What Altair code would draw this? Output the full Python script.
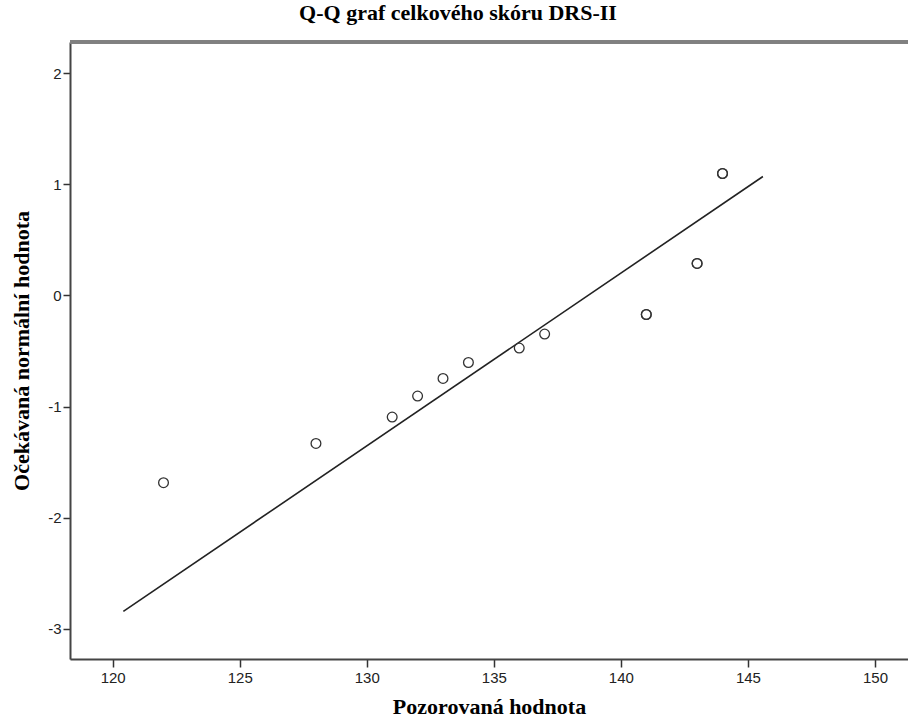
import altair as alt
import pandas as pd

# Observed values (ties repeated, as drawn twice in the reference)
observed = [122, 128, 131, 132, 133, 134, 136, 137, 141, 141, 143, 143, 144, 144]
expected = [-1.684, -1.331, -1.094, -0.905, -0.746, -0.603, -0.473, -0.347,
            -0.171, -0.171, 0.288, 0.288, 1.097, 1.097]

# Reference normal line end points
line_x = [120.42, 145.59]
line_y = [-2.842, 1.070]

x_ticks = [120, 125, 130, 135, 140, 145, 150]
y_ticks = [-3, -2, -1, 0, 1, 2]

pts = pd.DataFrame({"obs": observed, "exp": expected})
ln = pd.DataFrame({"obs": line_x, "exp": line_y})

W, H = 838, 617
xscale = alt.Scale(domain=[118.32, 151.30], nice=False, zero=False)
yscale = alt.Scale(domain=[-3.27, 2.28], nice=False, zero=False)

xaxis = alt.Axis(values=x_ticks, title="Pozorovaná hodnota", grid=False,
                 labelExpr="'' + datum.value",
                 tickSize=8, tickWidth=1.5, tickColor="#333333",
                 domainColor="#444444", domainWidth=2,
                 labelFont="Liberation Sans", labelFontSize=15, labelColor="#222222",
                 labelPadding=3, titleFont="Liberation Serif", titleFontSize=22,
                 titleFontWeight="bold", titleColor="#000000", titlePadding=11)
yaxis = alt.Axis(values=y_ticks, title="Očekávaná normální hodnota", grid=False,
                 labelExpr="'' + datum.value",
                 tickSize=7, tickWidth=1.5, tickColor="#333333",
                 domainColor="#444444", domainWidth=2,
                 labelFont="Liberation Sans", labelFontSize=15, labelColor="#222222",
                 labelPadding=2, titleFont="Liberation Serif", titleFontSize=22,
                 titleFontWeight="bold", titleColor="#000000", titlePadding=14)

line = alt.Chart(ln).mark_line(color="#222222", strokeWidth=1.6).encode(
    x=alt.X("obs:Q", scale=xscale, axis=xaxis),
    y=alt.Y("exp:Q", scale=yscale, axis=yaxis),
)

points = alt.Chart(pts).mark_point(shape="circle", size=95, filled=False,
                                   color="#333333", strokeWidth=1.3, opacity=1).encode(
    x=alt.X("obs:Q", scale=xscale),
    y=alt.Y("exp:Q", scale=yscale),
)

top_border = alt.Chart(pts).mark_rule(color="#808080", strokeWidth=2.5).encode(
    x=alt.value(0), x2=alt.value(W), y=alt.value(0)
)

chart = alt.layer(line, points, top_border).properties(
    width=W, height=H,
    title=alt.TitleParams("Q-Q graf celkového skóru DRS-II", font="Liberation Serif",
                          fontSize=22, fontWeight="bold", color="#000000",
                          anchor="middle", dx=-31, offset=16),
    autosize=alt.AutoSizeParams(type="none"),
    padding={"left": 70, "top": 42, "right": 0, "bottom": 66},
).configure_view(fill="#f0f0f0", stroke="transparent").configure(background="#ffffff")

chart.save("out.html", embed_options={"renderer": "svg", "actions": False})
